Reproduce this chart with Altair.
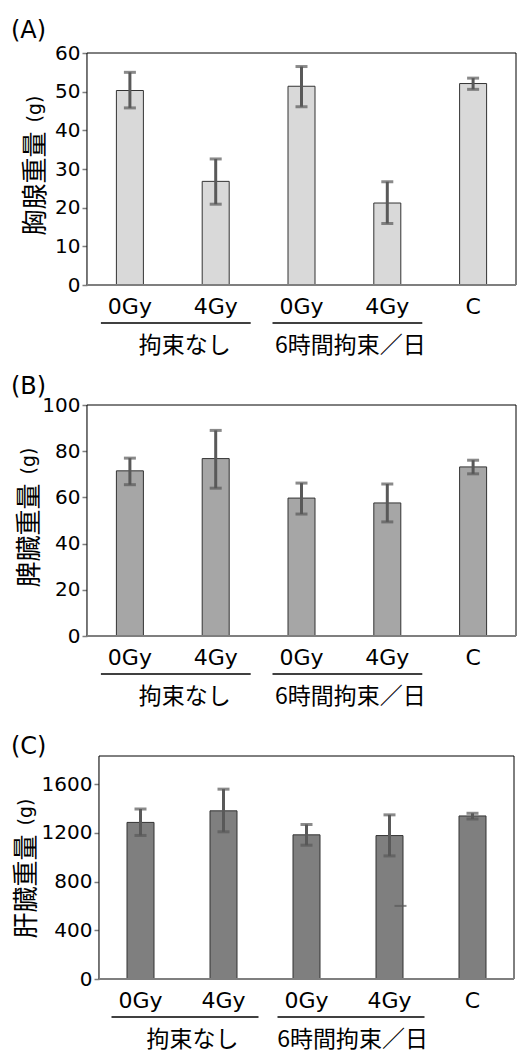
import altair as alt
import pandas as pd

CJK = "Noto Sans CJK JP"
LAT = "DejaVu Sans"

# ---- data ----
cats = ["n0", "n4", "r0", "r4", "c"]
cat_labels = ["0Gy", "4Gy", "0Gy", "4Gy", "C"]
groups = ["拘束なし", "6時間拘束／日"]
group_first = ["n0", "r0"]
group_last = ["n4", "r4"]

thymus_mean = [50.3, 26.8, 51.4, 21.2, 52.1]
thymus_lo = [45.8, 20.9, 46.1, 15.9, 50.6]
thymus_hi = [55.0, 32.6, 56.5, 26.7, 53.5]

spleen_mean = [71.5, 76.8, 59.7, 57.6, 73.2]
spleen_lo = [65.5, 64.0, 52.8, 49.4, 70.2]
spleen_hi = [77.0, 89.0, 66.2, 65.8, 76.1]

liver_mean = [1285, 1380, 1183, 1177, 1338]
liver_lo = [1178, 1208, 1098, 1010, 1313]
liver_hi = [1395, 1558, 1268, 1347, 1360]
liver_stray_cat = ["r4"]
liver_stray_val = [600]

label_map = dict(zip(cats, cat_labels))
label_expr = "{" + ",".join(f"'{k}':'{v}'" for k, v in label_map.items()) + "}[datum.value]"

GROUP_DX = [-31, -37]  # text nudges for the two group captions


def panel(tag, ytitle, mean, lo, hi, fill, ymax, yticks, W, H, left,
          tag_y, ytitle_x, stray=None):
    # `left` = blank margin (px) inside the view before the plot frame starts
    df = pd.DataFrame({"cat": cats, "mean": mean, "lo": lo, "hi": hi})
    xs = alt.Scale(domain=cats, paddingInner=0, paddingOuter=0, range=[left, W])
    ys = alt.Scale(domain=[0, ymax], nice=False, zero=True)
    xaxis = alt.Axis(labelExpr=label_expr, ticks=False, tickSize=0, domain=False,
                     labelPadding=11, labelFont=LAT, labelFontSize=22,
                     labelColor="black", labelAngle=0, grid=False)
    yaxis = alt.Axis(values=yticks, format="d", titleFont=CJK, offset=-left,
                     titleFontSize=26, titleFontWeight="normal",
                     titleColor="black", titleX=ytitle_x, titleY=130,
                     titleBaseline="middle", titleAlign="center",
                     titleAngle=270, labelFont=LAT, labelFontSize=20,
                     labelColor="black", tickSize=5, tickColor="#7f7f7f",
                     tickWidth=1.5, domainColor="#7f7f7f", domainWidth=1.5,
                     labelPadding=2, grid=False)

    def X(f):
        return alt.X(f"{f}:N", scale=xs, title=None, axis=xaxis, sort=cats)

    def Y(f):
        return alt.Y(f"{f}:Q", scale=ys, title=ytitle, axis=yaxis)

    one = pd.DataFrame({"k": [0]})
    frame = alt.Chart(one).mark_rect(fill="white", stroke="black", strokeWidth=1).encode(
        x=alt.value(left), x2=alt.value(W), y=alt.value(0), y2=alt.value(H))
    bars = alt.Chart(df).mark_bar(size=27, fill=fill, stroke="#333333", strokeWidth=1).encode(
        x=X("cat"), y=Y("mean"))
    err = alt.Chart(df).mark_rule(color="#595959", strokeWidth=3).encode(
        x=X("cat"), y=Y("lo"), y2="hi:Q")
    cap_lo = alt.Chart(df).mark_tick(color="#595959", size=12, thickness=3).encode(
        x=X("cat"), y=Y("lo"))
    cap_hi = alt.Chart(df).mark_tick(color="#595959", size=12, thickness=3).encode(
        x=X("cat"), y=Y("hi"))
    base_line = alt.Chart(one).mark_rule(color="#7f7f7f", strokeWidth=2).encode(
        x=alt.value(left), x2=alt.value(W), y=alt.value(H))

    gdf = pd.DataFrame({"cat": group_first, "cat_end": group_last, "g": groups})
    gline = alt.Chart(gdf).mark_rule(color="black", strokeWidth=1.5,
                                     xOffset=-29, x2Offset=35).encode(
        x=X("cat"), x2="cat_end:N", y=alt.value(H + 38))
    gtexts = []
    for i, g in enumerate(groups):
        gtexts.append(
            alt.Chart(gdf[gdf["g"] == g]).mark_text(
                font=CJK, fontSize=23, dx=GROUP_DX[i], baseline="middle",
                color="black").encode(
                x=X("cat_end"), y=alt.value(H + 61), text="g:N"))
    unit = alt.Chart(pd.DataFrame({"u": ["(g)"]})).mark_text(
        angle=270, font=LAT, fontSize=19, baseline="middle", align="center",
        color="black").encode(x=alt.value(left + ytitle_x), y=alt.value(56), text="u:N")
    tagm = alt.Chart(pd.DataFrame({"t": [tag]})).mark_text(
        font=LAT, fontSize=24, baseline="alphabetic", align="left",
        color="black").encode(x=alt.value(-76), y=alt.value(tag_y), text="t:N")

    layers = [frame, bars, err, cap_lo, cap_hi, base_line, gline] + gtexts + [unit, tagm]
    if stray is not None:
        sdf = pd.DataFrame({"cat": stray[0], "v": stray[1]})
        layers.append(alt.Chart(sdf).mark_tick(color="#595959", size=12, thickness=2,
                                               xOffset=11).encode(x=X("cat"), y=Y("v")))

    return alt.layer(*layers).properties(width=W, height=H)


A = panel("(A)", "胸腺重量", thymus_mean, thymus_lo, thymus_hi, "#d9d9d9",
          60, [0, 10, 20, 30, 40, 50, 60], 429, 232, 0, -15, -52)
B = panel("(B)", "脾臓重量", spleen_mean, spleen_lo, spleen_hi, "#a6a6a6",
          100, [0, 20, 40, 60, 80, 100], 429, 231, 0, -11, -58)
C = panel("(C)", "肝臓重量", liver_mean, liver_lo, liver_hi, "#7f7f7f",
          1830, [0, 400, 800, 1200, 1600], 427, 223, 12, -2, -73,
          stray=(liver_stray_cat, liver_stray_val))

chart = alt.vconcat(A, B, C, spacing=120, bounds="flush").properties(
    padding={"left": 3, "top": 11, "right": 0, "bottom": 5}
).configure_view(stroke=None)

chart.save("out.html", embed_options={"renderer": "svg", "actions": False})
